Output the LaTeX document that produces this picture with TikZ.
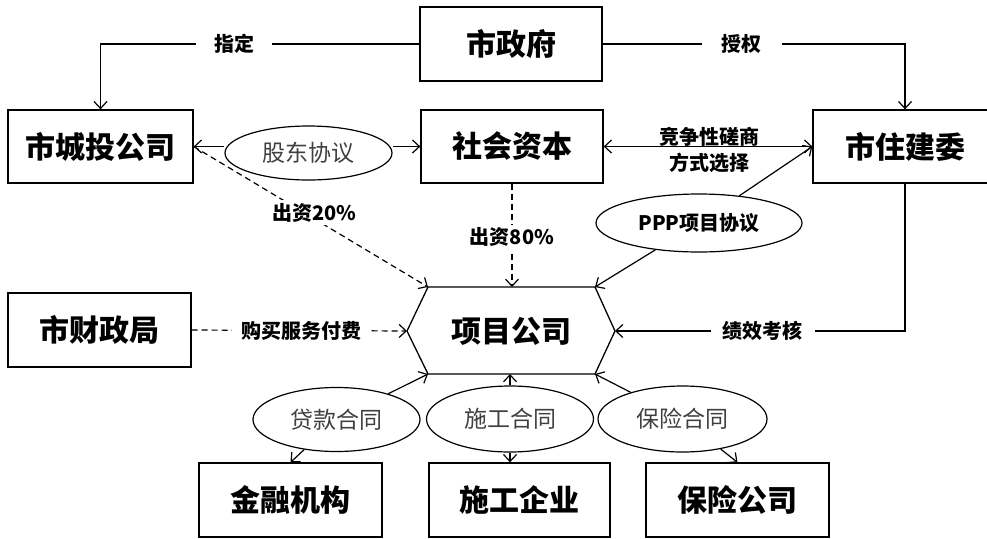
\documentclass[tikz,border=0pt]{standalone}
\usepackage{fontspec}
\setmainfont{Noto Sans CJK SC}
\usetikzlibrary{arrows.meta,shapes.geometric}
\begin{document}
\begin{tikzpicture}[x=1pt,y=-1pt,
  box/.style={draw,line width=1.3pt,minimum height=73pt,inner sep=0pt,font=\fontsize{30}{36}\selectfont\bfseries},
  hextext/.style={inner sep=0pt,font=\fontsize{30}{36}\selectfont\bfseries},
  oval/.style={draw,ellipse,line width=1.2pt,inner sep=0pt,text=black!75,font=\fontsize{23}{28}\selectfont},
  lbl/.style={fill=white,inner sep=3pt,font=\fontsize{20}{26}\selectfont\bfseries},
  tip/.tip={Straight Barb[length=7pt,width=13pt,line width=1.2pt]},
  arr/.style={line width=1.2pt,-tip},
  arrs/.style={line width=1.2pt,tip-tip},
  dsh/.style={arr,dash pattern=on 6pt off 4pt},
]
\useasboundingbox (0,0) rectangle (987,538);

% boxes
\node[box,minimum width=182pt,minimum height=74pt] (gov) at (511,44) {市政府};
\node[box,minimum width=185pt] (cht) at (100.5,146.5) {市城投公司};
\node[box,minimum width=182pt] (shzb) at (512,146.5) {社会资本};
\node[box,minimum width=184pt] (zjw) at (905,146.5) {市住建委};
\node[box,minimum width=183pt,minimum height=74pt] (czj) at (99.5,330) {市财政局};
\node[box,minimum width=183pt,minimum height=74pt] (jr) at (290.5,500) {金融机构};
\node[box,minimum width=181pt,minimum height=74pt] (sg) at (519.5,500) {施工企业};
\node[box,minimum width=183pt,minimum height=74pt] (bx) at (737.5,500) {保险公司};

% project company hexagon
\coordinate (hL) at (407,331);
\coordinate (hTL) at (428,287);
\coordinate (hTR) at (595,287);
\coordinate (hR) at (615,331);
\coordinate (hBR) at (595,374);
\coordinate (hBL) at (428,374);
\draw[line width=1.3pt] (hL) -- (hTL) -- (hTR) -- (hR) -- (hBR) -- (hBL) -- cycle;
\node[hextext] (xm) at (511.5,331) {项目公司};

% ellipses
\node[oval,minimum width=167pt,minimum height=54pt] (gd) at (308.5,153) {股东协议};
\node[oval,minimum width=206pt,minimum height=58pt,text=black,font=\fontsize{20}{24}\selectfont\bfseries] (ppp) at (699,223) {PPP项目协议};
\node[oval,minimum width=167pt,minimum height=64pt] (dk) at (336.5,419.5) {贷款合同};
\node[oval,minimum width=167pt,minimum height=66pt] (sght) at (510,419) {施工合同};
\node[oval,minimum width=169pt,minimum height=66pt] (bxht) at (682.5,419) {保险合同};

% connectors
\draw[arr] (gov.west) -| node[lbl,pos=0.29,inner xsep=18pt] (lzd) {指定} (cht.north);
\draw[arr] (gov.east) -| node[lbl,pos=0.23,inner xsep=20pt] (lsq) {授权} (zjw.north);
\draw[arr] (gd.west |- cht.east) -- (cht.east);
\draw[arr] (gd.east |- shzb.west) -- (shzb.west);
\draw[arrs] (shzb.east) -- (zjw.west);
\node[align=center,font=\fontsize{20}{26}\selectfont\bfseries] (ljz) at (709,150) {竞争性磋商\\方式选择};
\draw[arr] (ppp) -- (zjw.west);
\draw[arr] (ppp) -- (hTR);
\draw[dsh] (cht.east) -- node[lbl,pos=0.515,yshift=6pt] (l20) {出资20\%} (hTL);
\draw[dsh] (shzb.south) -- node[lbl,pos=0.52] (l80) {出资80\%} (shzb.south |- hTL);
\draw[dsh] (czj.east) -- node[lbl,pos=0.51,inner xsep=9pt] (lgm) {购买服务付费} (hL);
\draw[arr] (zjw.south) |- node[lbl,pos=0.745,inner xsep=12pt] (ljx) {绩效考核} (hR);
\draw[arr] (dk) -- (hBL);
\draw[arr] (dk) -- (jr.north);
\draw[arr] (sght.north) -- (sght.north |- hBL);
\draw[arr] (sght.south) -- (sght.south |- sg.north);
\draw[arr] (bxht) -- (hBR);
\draw[arr] (bxht) -- (bx.north);
\end{tikzpicture}
\end{document}
